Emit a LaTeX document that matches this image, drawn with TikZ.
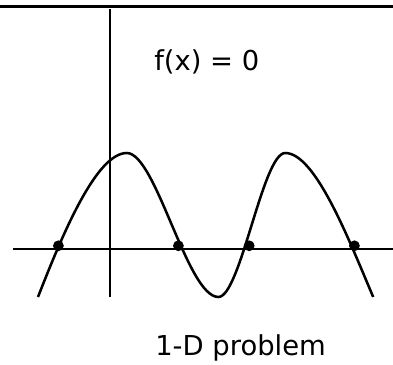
\documentclass[tikz,border=0pt]{standalone}
\usepackage{fontspec}
\setmainfont{DejaVu Sans}
\usetikzlibrary{positioning}

\tikzset{
    axis/.style={line width=1.8pt},
    curve/.style={line width=1.8pt, line join=round},
    root/.style={circle, fill=black, inner sep=0pt, minimum size=0.27cm},
    label/.style={font=\fontsize{19.5}{23}\selectfont, inner sep=0pt, anchor=base west}
}

\begin{document}
\begin{tikzpicture}
    \useasboundingbox (-2.75,-2.875) rectangle (7.075,6.225);

    % Đường kẻ trên cùng
    \coordinate (tl) at (-2.75,6.07);
    \coordinate (tr) at (7.075,6.07);
    \draw[line width=2.4pt] (tl) -- (tr);

    % Hệ trục tọa độ
    \coordinate (xl) at (-2.42,0);
    \coordinate (xr) at (7.075,0);
    \coordinate (yb) at (0,-1.2);
    \coordinate (yt) at (0,6.0);
    \draw[axis] (xl) -- (xr);
    \draw[axis] (yb) -- (yt);

    % Đồ thị hàm số
    \draw[curve] (-1.8,-1.2) .. controls (-1.17,0.42) and (-0.33,2.4) .. (0.42,2.4)
        .. controls (1.15,2.4) and (1.93,-1.2) .. (2.71,-1.2)
        .. controls (3.26,-1.2) and (3.82,2.4) .. (4.38,2.4)
        .. controls (5.13,2.4) and (5.96,0.26) .. (6.58,-1.2);

    % Các nghiệm
    \node[root] (r1) at (-1.29,0.08) {};
    \node[root] (r2) at (1.71,0.08) {};
    \node[root] (r3) at (3.48,0.08) {};
    \node[root] (r4) at (6.11,0.08) {};

    \node[label] (eq) at (1.1,4.45) {f(x) = 0};
    \node[label] (title) at (1.125,-2.65) {1-D problem};
\end{tikzpicture}
\end{document}
